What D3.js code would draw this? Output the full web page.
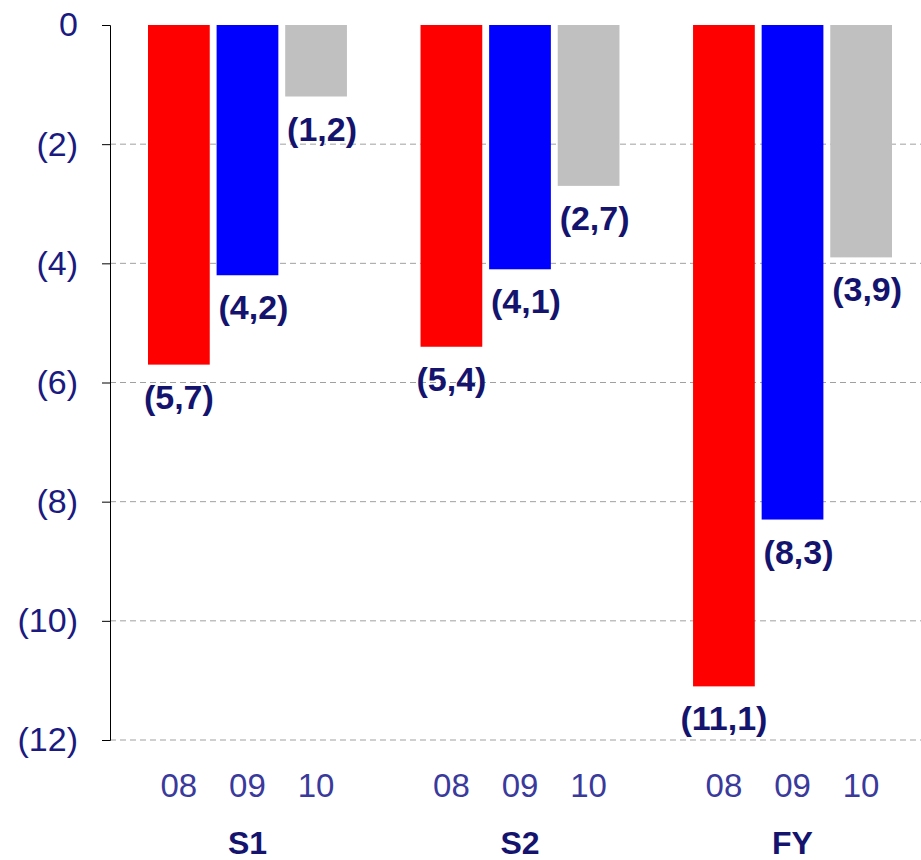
<!DOCTYPE html>
<html><head><meta charset="utf-8">
<script src="https://cdn.jsdelivr.net/npm/d3@7"></script>
<style>body{margin:0;background:#fff}text{font-family:"Liberation Sans Narrow","Liberation Sans",Arial,sans-serif}</style>
</head><body><div id="chart"></div>
<script>
// data
const groups = ["S1", "S2", "FY"];
const years = ["08", "09", "10"];
const values = [
  [-5.7, -4.2, -1.2],
  [-5.4, -4.1, -2.7],
  [-11.1, -8.3, -3.9]
];
const labels = [
  ["(5,7)", "(4,2)", "(1,2)"],
  ["(5,4)", "(4,1)", "(2,7)"],
  ["(11,1)", "(8,3)", "(3,9)"]
];
const yTicks = [0, -2, -4, -6, -8, -10, -12];
const tickLabels = ["0", "(2)", "(4)", "(6)", "(8)", "(10)", "(12)"];
const colors = ["#ff0000", "#0000ff", "#c0c0c0"];

const width = 921, height = 860;
const marginLeft = 110, marginTop = 25, plotBottom = 740;

const svg = d3.select("#chart").append("svg")
  .attr("width", width).attr("height", height);

const y = d3.scaleLinear().domain([0, -12]).range([marginTop, plotBottom]);
const x0 = d3.scaleBand().domain(groups).range([148, 892]).paddingInner(0.27).paddingOuter(0);
const x1 = d3.scaleBand().domain(years).range([0, x0.bandwidth()]).paddingInner(0.1);

// gridlines
svg.append("g").selectAll("line").data(yTicks.slice(1)).join("line")
  .attr("x1", marginLeft).attr("x2", width)
  .attr("y1", d => y(d)).attr("y2", d => y(d))
  .attr("stroke", "#a0a0a0").attr("stroke-dasharray", "6,4");

// axis
const yAxis = d3.axisLeft(y).tickValues(yTicks).tickSize(8)
  .tickFormat((d, i) => tickLabels[i]);
const ag = svg.append("g").attr("transform", `translate(${marginLeft},0)`).call(yAxis);
ag.select(".domain").attr("stroke", "#000");
ag.selectAll(".tick line").attr("stroke", "#000");
ag.selectAll(".tick text").attr("x", -32).attr("font-size", 34)
  .attr("fill", "#1a1a80").attr("font-family", "Liberation Sans Narrow, Liberation Sans, Arial");

// bars
const gg = svg.append("g").selectAll("g").data(groups).join("g")
  .attr("transform", d => `translate(${x0(d)},0)`);

gg.each(function (g, gi) {
  const sel = d3.select(this);
  sel.selectAll("rect").data(values[gi]).join("rect")
    .attr("x", (d, i) => x1(years[i]))
    .attr("width", x1.bandwidth())
    .attr("y", y(0))
    .attr("height", d => y(d) - y(0))
    .attr("fill", (d, i) => colors[i]);
  sel.selectAll("text.val").data(values[gi]).join("text")
    .attr("class", "val")
    .attr("x", (d, i) => x1(years[i]) + x1.bandwidth() / 2 + (i === 0 ? 0 : 6))
    .attr("y", d => y(d) + 44)
    .attr("text-anchor", "middle")
    .attr("font-size", 34).attr("font-weight", "bold").attr("fill", "#14146e")
    .text((d, i) => labels[gi][i]);
  sel.selectAll("text.yr").data(years).join("text")
    .attr("class", "yr")
    .attr("x", d => x1(d) + x1.bandwidth() / 2)
    .attr("y", 797)
    .attr("text-anchor", "middle")
    .attr("font-size", 33).attr("fill", "#3a3a9c")
    .text(d => d);
  sel.append("text")
    .attr("x", x0.bandwidth() / 2).attr("y", 854)
    .attr("text-anchor", "middle")
    .attr("font-size", 32).attr("font-weight", "bold").attr("fill", "#14146e")
    .text(g);
});
</script></body></html>
